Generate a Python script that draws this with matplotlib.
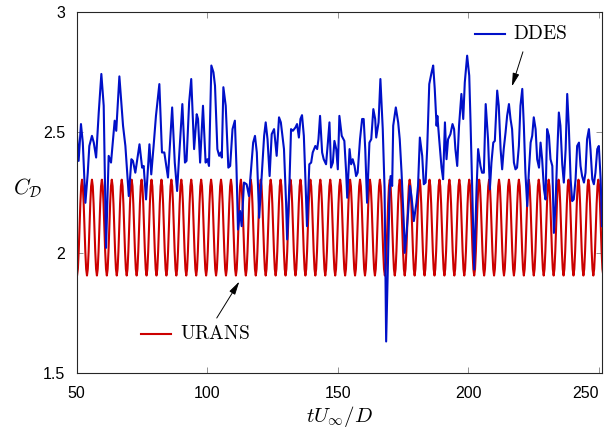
import numpy as np
import matplotlib as mpl
mpl.use('Agg')
import matplotlib.pyplot as plt
from matplotlib.lines import Line2D

plt.rcParams['mathtext.fontset'] = 'cm'
plt.rcParams['font.family'] = ['Liberation Sans', 'DejaVu Sans']

# URANS: steady periodic signal, one period
urans_t0 = 48.3          # time of a crest
urans_period = 3.80
urans_cycle = [2.304, 2.277, 2.205, 2.105, 2.006, 1.933,
               1.906, 1.933, 2.006, 2.105, 2.205, 2.277]
urans_cycles = 54

# DDES
ddes_t = [50.2, 50.8, 51.7, 52.4, 53.4, 54.3, 54.9, 55.9, 56.6, 57.5,
          58.5, 59.5, 60.4, 61.3, 62.3, 63.2, 64.6, 65.2, 66.4, 67.8,
          68.7, 70.0, 71.0, 71.6, 72.5, 74.1, 75.1, 75.7, 76.6, 77.9,
          78.6, 79.5, 80.4, 81.7, 82.7, 83.6, 85.0, 86.6, 87.6, 88.5,
          89.2, 90.5, 91.5, 92.1, 93.1, 93.9, 95.0, 96.0, 96.5, 97.3,
          98.4, 99.4, 100.1, 100.7, 101.6, 102.4, 103.0, 103.9, 104.6, 105.2,
          105.6, 106.2, 107.1, 108.1, 108.8, 109.7, 110.6, 111.2, 111.8, 112.6,
          113.2, 114.1, 115.1, 116.0, 116.7, 117.6, 118.3, 119.0, 119.9, 120.8,
          121.8, 122.4, 123.1, 123.9, 124.7, 125.6, 126.6, 127.5, 128.2, 129.4,
          130.2, 130.6, 131.5, 132.1, 132.8, 133.8, 134.4, 135.1, 135.7, 136.3,
          137.0, 137.6, 138.2, 139.1, 139.8, 140.4, 141.4, 142.1, 142.6, 143.2,
          144.0, 144.6, 145.5, 146.2, 146.8, 147.4, 148.1, 148.7, 149.4, 150.0,
          150.6, 151.5, 152.5, 153.2, 153.6, 154.5, 155.1, 155.7, 156.4, 157.0,
          157.6, 158.5, 159.3, 159.9, 160.5, 161.2, 162.1, 162.8, 163.6, 164.3,
          164.7, 165.6, 166.3, 167.2, 167.9, 168.5, 169.1, 169.8, 170.2, 170.8,
          171.2, 172.2, 173.1, 173.7, 174.4, 175.3, 175.6, 176.3, 176.9, 177.6,
          178.2, 179.1, 180.1, 180.7, 181.4, 182.3, 182.9, 183.6, 184.2, 185.0,
          185.9, 186.5, 187.1, 187.8, 188.1, 188.8, 189.7, 190.3, 191.0, 191.6,
          192.2, 193.1, 193.9, 194.5, 195.0, 195.7, 196.4, 197.3, 198.0, 198.6,
          199.5, 200.3, 200.8, 201.5, 202.2, 203.1, 203.7, 204.6, 205.2, 205.9,
          206.6, 207.5, 208.2, 208.8, 209.5, 210.1, 211.0, 211.6, 212.3, 212.9,
          213.5, 214.2, 214.8, 215.5, 216.1, 216.7, 217.4, 218.0, 218.6, 219.3,
          219.9, 220.6, 221.2, 221.8, 222.5, 223.1, 223.8, 224.4, 225.0, 225.7,
          226.3, 227.0, 227.6, 228.2, 228.9, 229.5, 230.1, 230.8, 231.4, 232.1,
          232.7, 233.3, 234.0, 234.6, 235.2, 235.9, 236.5, 237.2, 237.8, 238.4,
          239.1, 239.7, 240.3, 241.0, 241.6, 242.3, 242.9, 243.5, 244.2, 244.8,
          245.4, 246.1, 246.7, 247.4, 248.0, 248.6, 249.3, 249.9, 250.6, 251.1]
ddes_cd = [2.486, 2.382, 2.535, 2.458, 2.208, 2.333, 2.444, 2.486, 2.458, 2.396,
           2.583, 2.743, 2.611, 2.021, 2.403, 2.375, 2.549, 2.507, 2.733, 2.528,
           2.444, 2.236, 2.389, 2.382, 2.333, 2.451, 2.354, 2.361, 2.222, 2.451,
           2.326, 2.444, 2.569, 2.701, 2.417, 2.417, 2.313, 2.604, 2.375, 2.257,
           2.389, 2.618, 2.375, 2.382, 2.625, 2.722, 2.431, 2.576, 2.556, 2.375,
           2.611, 2.375, 2.389, 2.361, 2.778, 2.750, 2.694, 2.431, 2.403, 2.417,
           2.396, 2.688, 2.611, 2.354, 2.361, 2.514, 2.549, 2.361, 2.097, 2.174,
           2.111, 2.292, 2.285, 2.236, 2.333, 2.458, 2.486, 2.417, 2.146, 2.306,
           2.486, 2.542, 2.472, 2.319, 2.493, 2.514, 2.403, 2.563, 2.542, 2.431,
           2.208, 2.056, 2.292, 2.514, 2.507, 2.521, 2.535, 2.479, 2.556, 2.572,
           2.486, 2.306, 2.111, 2.368, 2.375, 2.417, 2.444, 2.431, 2.472, 2.569,
           2.417, 2.389, 2.368, 2.458, 2.542, 2.354, 2.375, 2.465, 2.431, 2.347,
           2.569, 2.486, 2.465, 2.333, 2.229, 2.431, 2.368, 2.389, 2.361, 2.319,
           2.333, 2.472, 2.556, 2.556, 2.431, 2.208, 2.458, 2.472, 2.597, 2.556,
           2.479, 2.542, 2.722, 2.514, 2.264, 1.632, 1.917, 2.250, 2.319, 2.278,
           2.528, 2.604, 2.542, 2.472, 2.333, 2.111, 2.000, 2.083, 2.167, 2.278,
           2.236, 2.132, 2.208, 2.278, 2.479, 2.403, 2.285, 2.292, 2.431, 2.701,
           2.750, 2.778, 2.681, 2.528, 2.569, 2.472, 2.354, 2.306, 2.542, 2.389,
           2.472, 2.493, 2.535, 2.514, 2.431, 2.361, 2.528, 2.660, 2.556, 2.708,
           2.819, 2.736, 2.542, 2.236, 1.931, 2.264, 2.431, 2.361, 2.333, 2.333,
           2.618, 2.472, 2.264, 2.375, 2.458, 2.465, 2.674, 2.611, 2.431, 2.347,
           2.431, 2.500, 2.569, 2.618, 2.556, 2.514, 2.375, 2.347, 2.354, 2.444,
           2.611, 2.681, 2.528, 2.333, 2.194, 2.333, 2.458, 2.486, 2.563, 2.514,
           2.389, 2.354, 2.458, 2.389, 2.264, 2.222, 2.514, 2.486, 2.389, 2.361,
           2.083, 2.194, 2.417, 2.583, 2.528, 2.368, 2.292, 2.431, 2.660, 2.528,
           2.306, 2.215, 2.222, 2.306, 2.444, 2.458, 2.361, 2.319, 2.292, 2.333,
           2.472, 2.514, 2.431, 2.306, 2.285, 2.333, 2.431, 2.444, 2.306, 2.111]

x_ticks = [50, 100, 150, 200, 250]
y_ticks = [1.5, 2, 2.5, 3]

urans_cd = np.tile(urans_cycle, urans_cycles)
urans_t = urans_t0 + np.arange(len(urans_cd)) * urans_period / len(urans_cycle)

blue = '#0010c8'
red = '#cc0000'
axcol = '#262626'

fig = plt.figure(figsize=(6.04, 4.30), dpi=100)
ax = fig.add_axes([0.1267, 0.1319, 0.8695, 0.840])

ax.plot(urans_t, urans_cd, color=red, lw=1.5)
ax.plot(ddes_t, ddes_cd, color=blue, lw=1.5)

ax.set_xlim(50, 251)
ax.set_ylim(1.5, 3)
ax.set_xticks(x_ticks)
ax.set_yticks(y_ticks)
ax.set_yticklabels(['1.5', '2', '2.5', '3'])
ax.tick_params(direction='in', length=4.5, width=0.6, color='#808080',
               top=True, right=True, labelsize=11.5, labelcolor='k', pad=8)
ax.tick_params(axis='x', pad=9)
ax.get_xticklabels()[-1].set_horizontalalignment('right')
for s in ax.spines.values():
    s.set_color(axcol)
    s.set_linewidth(0.8)

ax.set_xlabel(r'$tU_\infty/D$', fontsize=15, labelpad=2)
ax.set_ylabel(r'$C_\mathcal{D}$', fontsize=15.5, rotation=0, labelpad=0)
ax.yaxis.set_label_coords(-0.093, 0.48)

# legend-like labels with arrows
ax.add_line(Line2D([0.759, 0.816], [0.940, 0.940], transform=ax.transAxes,
                   color=blue, lw=1.5))
ax.text(0.831, 0.940, r'$\mathrm{DDES}$', transform=ax.transAxes,
        fontsize=14, va='center', ha='left')
ax.annotate('', xy=(0.829, 0.794), xytext=(0.850, 0.890),
            xycoords='axes fraction', textcoords='axes fraction',
            arrowprops=dict(arrowstyle='-|>,head_length=0.8,head_width=0.2',
                            color='k', lw=0.7, shrinkA=0, shrinkB=0))

ax.add_line(Line2D([0.123, 0.180], [0.109, 0.109], transform=ax.transAxes,
                   color=red, lw=1.5))
ax.text(0.197, 0.109, r'$\mathrm{URANS}$', transform=ax.transAxes,
        fontsize=14, va='center', ha='left')
ax.annotate('', xy=(0.310, 0.254), xytext=(0.267, 0.153),
            xycoords='axes fraction', textcoords='axes fraction',
            arrowprops=dict(arrowstyle='-|>,head_length=0.8,head_width=0.2',
                            color='k', lw=0.7, shrinkA=0, shrinkB=0))

fig.savefig('out.png', dpi=100)
